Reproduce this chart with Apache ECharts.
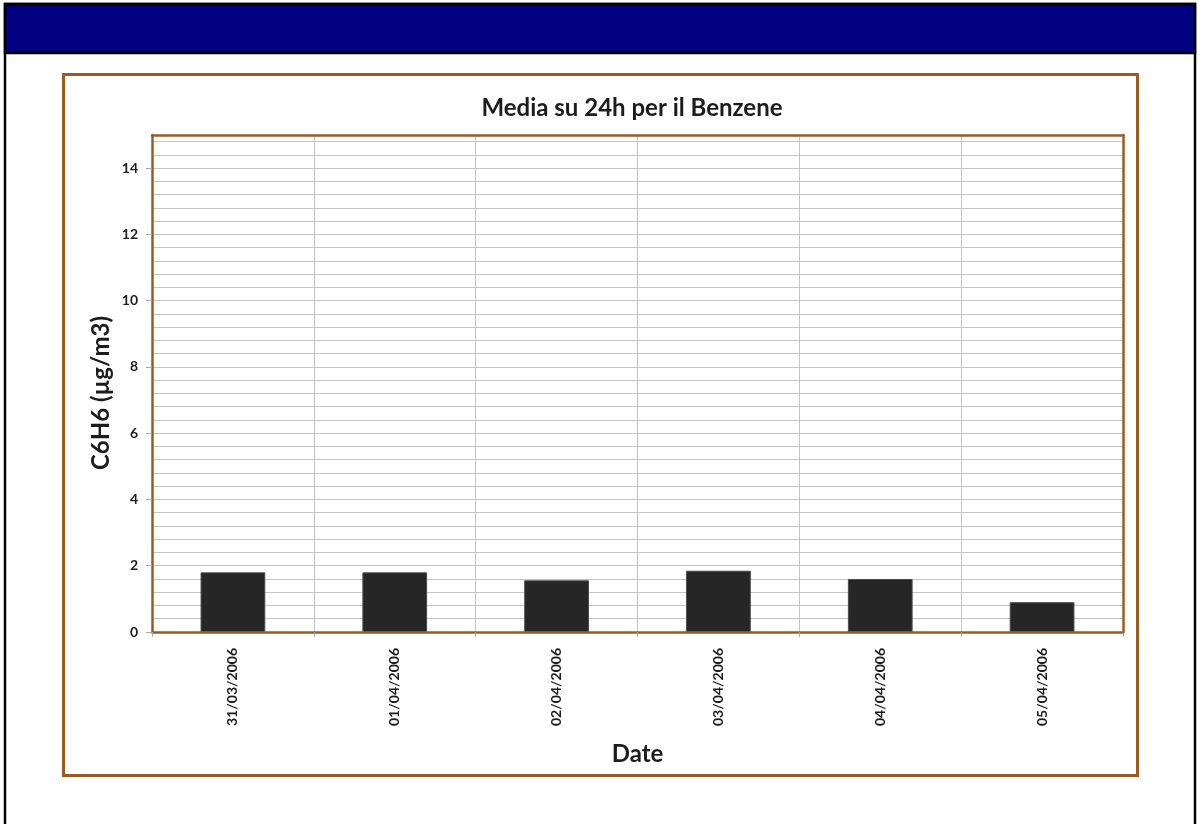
<!DOCTYPE html>
<html>
<head>
<meta charset="utf-8">
<title>Media su 24h per il Benzene</title>
<script src="https://cdn.jsdelivr.net/npm/echarts@6/dist/echarts.min.js"></script>
<style>
  html, body { margin: 0; padding: 0; background: #ffffff; }
  #chart { width: 1198px; height: 824px; }
</style>
</head>
<body>
<div id="chart"></div>
<script>
// Daily 24h averages of benzene (C6H6), µg/m3
const dates = ['31/03/2006', '01/04/2006', '02/04/2006', '03/04/2006', '04/04/2006', '05/04/2006'];
const benzene = [1.80, 1.80, 1.56, 1.85, 1.60, 0.90];
const yTicks = [0, 2, 4, 6, 8, 10, 12, 14];
const yMin = 0;
const yMax = 15;
const gridStep = 0.4;

const titleText = 'Media su 24h per il Benzene';
const yName = 'C6H6 (µg/m3)';
const xName = 'Date';

const FONT = 'Lato, "Open Sans", sans-serif';
const BROWN = '#9A5B23';
const GRID_GRAY = '#C4C4C4';
const INK = '#1c1c1c';

const chart = echarts.init(document.getElementById('chart'), null, { renderer: 'canvas' });

// plain brown frame line used on the top and right sides of the plot
const frameAxis = {
  axisLine: { show: true, onZero: false, lineStyle: { color: BROWN, width: 2.5 } },
  axisTick: { show: false }, axisLabel: { show: false }, splitLine: { show: false }
};

chart.setOption({
  backgroundColor: '#ffffff',
  animation: false,
  textStyle: { fontFamily: FONT },
  graphic: [
    // page border and navy header band
    { type: 'rect', z: 0, shape: { x: 5, y: 4, width: 1190, height: 840 },
      style: { fill: '#ffffff', stroke: '#000000', lineWidth: 2.5 } },
    { type: 'rect', z: 1, shape: { x: 5, y: 4, width: 1190, height: 49 },
      style: { fill: '#000080', stroke: '#000000', lineWidth: 2.5 } },
    // chart frame
    { type: 'rect', z: 1, shape: { x: 63.5, y: 74.5, width: 1074, height: 701 },
      style: { fill: 'transparent', stroke: BROWN, lineWidth: 3 } },
    // chart title
    { type: 'text', z: 5, x: 632, y: 108,
      style: { text: titleText, align: 'center', verticalAlign: 'middle',
               font: 'bold 24px ' + FONT, fill: INK } },
    // vertical axis title
    { type: 'text', z: 5, x: 101, y: 393, rotation: Math.PI / 2,
      style: { text: yName, align: 'center', verticalAlign: 'middle',
               font: 'bold 24px ' + FONT, fill: INK } }
  ],
  grid: {
    left: 152, top: 135, right: 75, bottom: 192,
    show: false,
    containLabel: false
  },
  xAxis: [
    {
      type: 'category',
      data: dates,
      boundaryGap: true,
      name: xName,
      nameLocation: 'middle',
      nameGap: 110,
      nameTextStyle: { fontFamily: FONT, fontWeight: 'bold', fontSize: 24, color: INK },
      axisLine: { show: true, lineStyle: { color: BROWN, width: 2.5 } },
      axisTick: { show: true, length: 5, lineStyle: { color: '#A8A8A8', width: 1 } },
      axisLabel: {
        rotate: 90, margin: 16, interval: 0,
        fontFamily: FONT, fontWeight: 'bold', fontSize: 14, color: INK
      },
      splitLine: { show: true, lineStyle: { color: GRID_GRAY, width: 1 } },
      z: 4
    },
    Object.assign({ type: 'category', data: dates, position: 'top', z: 5 }, frameAxis)
  ],
  yAxis: [
    {
      // fine horizontal gridlines
      type: 'value', min: yMin, max: yMax, interval: gridStep,
      axisLine: { show: false }, axisTick: { show: false }, axisLabel: { show: false },
      splitLine: { show: true, lineStyle: { color: GRID_GRAY, width: 1 } }
    },
    {
      // labelled value axis
      type: 'value', min: yMin, max: yMax, interval: 2, position: 'left',
      axisLine: { show: true, lineStyle: { color: BROWN, width: 2.5 } },
      axisTick: { show: true, length: 6, customValues: yTicks,
                  lineStyle: { color: '#A8A8A8', width: 1 } },
      axisLabel: { show: true, margin: 14, customValues: yTicks,
                   fontFamily: FONT, fontWeight: 'bold', fontSize: 14, color: INK },
      splitLine: { show: false },
      z: 4
    },
    Object.assign({ type: 'value', min: yMin, max: yMax, position: 'right', z: 5 }, frameAxis)
  ],
  series: [{
    type: 'bar',
    yAxisIndex: 1,
    data: benzene,
    barWidth: '40%',
    itemStyle: { color: '#262626', borderColor: '#4a4a4a', borderWidth: 1 },
    z: 3
  }]
});
</script>
</body>
</html>
